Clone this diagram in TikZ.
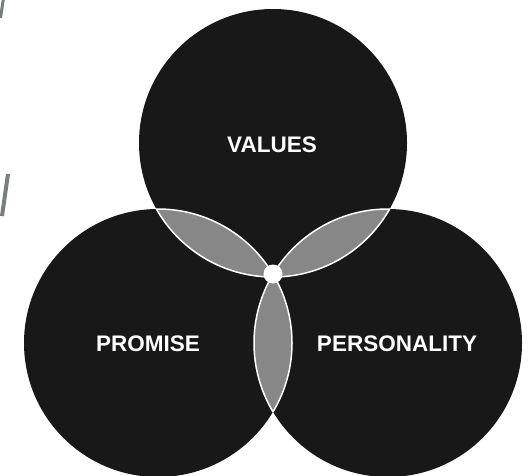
\documentclass[tikz,border=0pt]{standalone}
\usepackage{fontspec}
\setmainfont{Liberation Sans}
\usetikzlibrary{positioning}
\definecolor{ink}{RGB}{24,24,24}
\definecolor{lens}{RGB}{135,135,135}
\definecolor{edgegray}{RGB}{120,125,128}

\begin{document}
\begin{tikzpicture}[x=1pt,y=-1pt]
	\useasboundingbox (0,0) rectangle (529,475);
	\tikzset{circletext/.style={white, font=\bfseries\fontsize{22.5}{22.5}\selectfont}}
	\coordinate (values) at (273,143);
	\coordinate (promise) at (158,343);
	\coordinate (personality) at (388,343);
	% cut-off marks on the left edge
	\draw[edgegray, line width=3pt] (3.5,-2) -- (0.5,18);
	\draw[edgegray, line width=4pt] (8,174) -- (2,216);
	\foreach \c in {values,promise,personality} {
		\fill[ink] (\c) circle [radius=134pt];
	}
	\foreach \a/\b in {values/promise,values/personality,promise/personality} {
		\begin{scope}
			\clip (\a) circle [radius=134pt];
			\fill[lens] (\b) circle [radius=134pt];
		\end{scope}
	}
	\foreach \a/\b in {values/promise,values/personality,promise/personality} {
		\begin{scope}
			\clip (\a) circle [radius=134pt];
			\draw[white, line width=1.5pt] (\b) circle [radius=134pt];
		\end{scope}
		\begin{scope}
			\clip (\b) circle [radius=134pt];
			\draw[white, line width=1.5pt] (\a) circle [radius=134pt];
		\end{scope}
	}
	\node[circle, fill=white, inner sep=0pt, minimum size=19pt] (core) at (273,274) {};
	\node[circletext] (valuestext) at (272,145) {VALUES};
	\node[circletext] (promisetext) at (148,344) {PROMISE};
	\node[circletext] (personalitytext) at (397,344) {PERSONALITY};
\end{tikzpicture}
\end{document}
